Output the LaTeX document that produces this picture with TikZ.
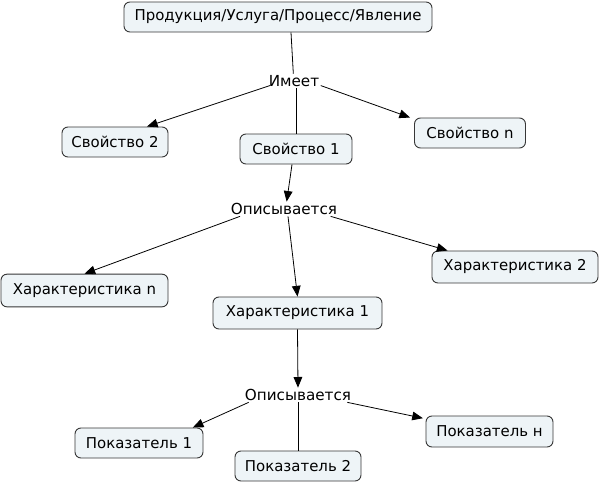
\documentclass[tikz,border=0pt]{standalone}
\usepackage{fontspec}
\setmainfont{DejaVu Sans}
\usetikzlibrary{arrows.meta}
\definecolor{boxfill}{RGB}{238,244,247}
\definecolor{boxline}{RGB}{55,55,55}
\tikzset{
  cbox/.style={draw=boxline, fill=boxfill, rounded corners=4.5pt, line width=0.7pt,
    minimum height=22.5pt, inner sep=2pt, font=\fontsize{11.2}{13}\selectfont},
  lbl/.style={inner sep=1pt, font=\fontsize{11.4}{13}\selectfont},
  conn/.style={line width=0.6pt},
  arr/.style={conn, -{Triangle[length=8pt,width=6.5pt]}}
}
\begin{document}
\begin{tikzpicture}[x=0.75pt,y=-0.75pt]
\useasboundingbox (0,0) rectangle (600,483);
\node[cbox, minimum width=231pt] (top) at (278,17) {Продукция/Услуга/Процесс/Явление};
\node[lbl] (imeet) at (294,81) {Имеет};
\node[cbox, minimum width=79.5pt] (sv2) at (115,142) {Свойство 2};
\node[cbox, minimum width=84pt] (sv1) at (296,149) {Свойство 1};
\node[cbox, minimum width=83.25pt] (svn) at (470,133) {Свойство n};
\node[lbl] (op1) at (284,209) {Описывается};
\node[cbox, minimum width=125.25pt, minimum height=24.5pt] (xn) at (84.5,290.5) {Характеристика n};
\node[cbox, minimum width=124.5pt, minimum height=24pt] (x2) at (515,267) {Характеристика 2};
\node[cbox, minimum width=126.75pt, minimum height=24pt] (x1) at (297.5,313) {Характеристика 1};
\node[lbl] (op2) at (298,395) {Описывается};
\node[cbox, minimum width=96pt] (p1) at (139,443) {Показатель 1};
\node[cbox, minimum width=94.5pt] (p2) at (298,466) {Показатель 2};
\node[cbox, minimum width=95.25pt, minimum height=23.25pt] (pn) at (489.5,431.5) {Показатель н};

\draw[conn] ([xshift=9.75pt]top.south) -- ([xshift=-0.5pt]imeet.north);
\draw[arr] ([xshift=2pt,yshift=2pt]imeet.south west) -- ([xshift=24pt]sv2.north);
\draw[conn] ([xshift=1.5pt]imeet.south) -- ([xshift=1.5pt]imeet.south |- sv1.north);
\draw[arr] ([yshift=2pt]imeet.south east) -- ([xshift=-3pt]svn.north west);
\draw[arr] ([xshift=-3pt]sv1.south) -- ([xshift=2pt]op1.north);
\draw[arr] ([xshift=8pt]op1.south west) -- (xn.north);
\draw[arr] ([xshift=3pt]op1.south) -- (x1.north);
\draw[arr] ([xshift=-6pt]op1.south east) -- ([xshift=12pt]x2.north west);
\draw[arr] (x1.south) -- (op2.north);
\draw[arr] ([xshift=4pt]op2.south west) -- ([xshift=-8pt]p1.north east);
\draw[conn] (op2.south) -- (p2.north);
\draw[arr] ([xshift=-4pt]op2.south east) -- ([xshift=-2pt,yshift=-2pt]pn.north west);
\end{tikzpicture}
\end{document}
